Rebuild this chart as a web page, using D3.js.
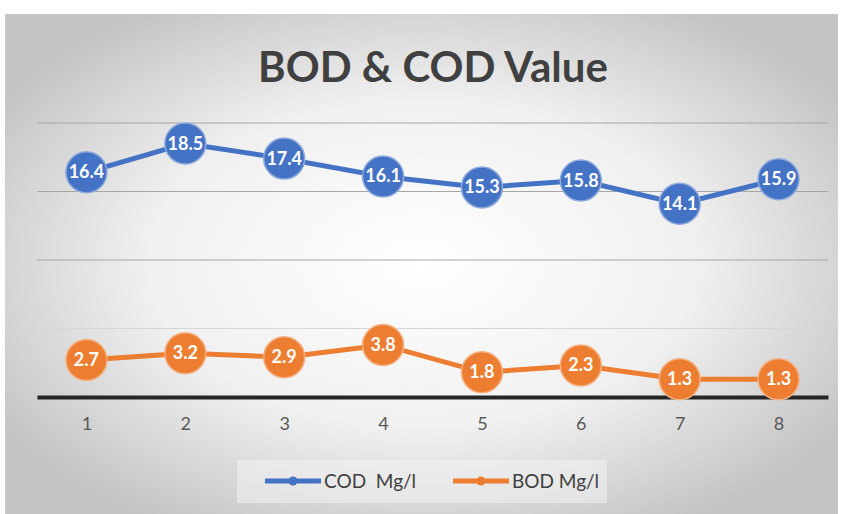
<!DOCTYPE html>
<html>
<head>
<meta charset="utf-8">
<script src="https://cdn.jsdelivr.net/npm/d3@7"></script>
<style>
  body { margin: 0; background: #fff; }
  text { font-family: Lato, "Open Sans", sans-serif; }
</style>
</head>
<body>
<div id="chart"></div>
<script>
const categories = ["1", "2", "3", "4", "5", "6", "7", "8"];
const codValues = [16.4, 18.5, 17.4, 16.1, 15.3, 15.8, 14.1, 15.9];
const bodValues = [2.7, 3.2, 2.9, 3.8, 1.8, 2.3, 1.3, 1.3];
const yTicks = [0, 5, 10, 15, 20];

const series = [
  { name: "COD  Mg/l", values: codValues, color: "#4472C4", halo: "#8faadc" },
  { name: "BOD Mg/l", values: bodValues, color: "#ED7D31", halo: "#f4b183" }
];

const W = 843, H = 514;
const margin = { top: 123, right: 15, bottom: 117, left: 37 };
const width = W - margin.left - margin.right;
const height = H - margin.top - margin.bottom;

const svg = d3.select("#chart").append("svg")
  .attr("width", W).attr("height", H);

// background gradient
const defs = svg.append("defs");
const grad = defs.append("radialGradient").attr("id", "bg")
  .attr("cx", "50%").attr("cy", "50%").attr("r", "60%");
grad.append("stop").attr("offset", "0%").attr("stop-color", "#ffffff");
grad.append("stop").attr("offset", "55%").attr("stop-color", "#f0f0f0");
grad.append("stop").attr("offset", "100%").attr("stop-color", "#c4c4c4");

svg.append("rect").attr("x", 5).attr("y", 14).attr("width", 833).attr("height", 500)
  .attr("fill", "url(#bg)");

svg.append("text")
  .attr("x", 433).attr("y", 82)
  .attr("text-anchor", "middle")
  .attr("font-size", 42).attr("font-weight", "bold")
  .attr("fill", "#404040")
  .text("BOD & COD Value");

const g = svg.append("g").attr("transform", `translate(${margin.left},${margin.top})`);

const x = d3.scalePoint().domain(categories).range([0, width]).padding(0.5);
const y = d3.scaleLinear().domain([0, 20]).range([height, 0]);

// gridlines
g.selectAll(".grid").data(yTicks.slice(1)).enter().append("line")
  .attr("x1", 0).attr("x2", width)
  .attr("y1", d => y(d)).attr("y2", d => y(d))
  .attr("stroke", (d, i) => i === 0 ? "#d6d6d6" : "#a6a6a6")
  .attr("stroke-width", 1.2);

// x axis
const xAxis = g.append("g").attr("transform", `translate(0,${height})`)
  .call(d3.axisBottom(x).tickSize(0).tickPadding(20));
xAxis.select(".domain").attr("stroke", "#262626").attr("stroke-width", 4);
xAxis.selectAll(".tick text")
  .attr("font-size", 18).attr("fill", "#595959")
  .style("font-family", "Lato, 'Open Sans', sans-serif");

const line = d3.line().x((d, i) => x(categories[i])).y(d => y(d));

series.forEach(s => {
  g.append("path").datum(s.values)
    .attr("d", line)
    .attr("fill", "none")
    .attr("stroke", s.color)
    .attr("stroke-width", 5);

  g.selectAll(null).data(s.values).enter().append("circle")
    .attr("cx", (d, i) => x(categories[i]))
    .attr("cy", d => y(d))
    .attr("r", 20.5)
    .attr("fill", s.color)
    .attr("stroke", s.halo)
    .attr("stroke-width", 1.5);

  g.selectAll(null).data(s.values).enter().append("text")
    .attr("x", (d, i) => x(categories[i]))
    .attr("y", d => y(d) + 6)
    .attr("text-anchor", "middle")
    .attr("font-size", 18).attr("font-weight", "bold")
    .attr("fill", "#fff")
    .text(d => d.toFixed(1));
});

// legend
const legend = svg.append("g");
legend.append("rect")
  .attr("x", 237).attr("y", 460).attr("width", 370).attr("height", 43)
  .attr("fill", "#f2f2f2").attr("fill-opacity", 0.55);

const legendX = [265, 453];
series.forEach((s, i) => {
  const lx = legendX[i];
  legend.append("line")
    .attr("x1", lx).attr("x2", lx + 56)
    .attr("y1", 481).attr("y2", 481)
    .attr("stroke", s.color).attr("stroke-width", 5);
  legend.append("circle")
    .attr("cx", lx + 28).attr("cy", 481).attr("r", 4.5)
    .attr("fill", s.color);
  legend.append("text")
    .attr("x", lx + 59).attr("y", 488)
    .attr("font-size", 19).attr("fill", "#404040")
    .attr("xml:space", "preserve")
    .style("white-space", "pre")
    .text(s.name);
});
</script>
</body>
</html>
